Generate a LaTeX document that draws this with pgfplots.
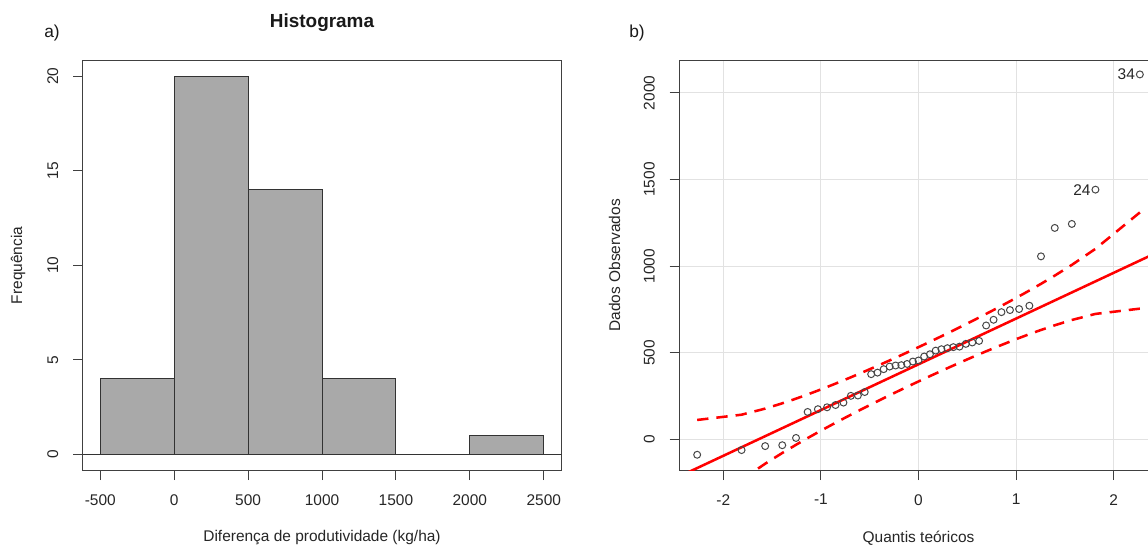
\documentclass[border=0pt]{standalone}
\usepackage{fontspec}
\setmainfont{Liberation Sans}
\usepackage{pgfplots}
\pgfplotsset{compat=1.18}
\newcommand\basefont{\fontsize{11.6}{13.9}\selectfont}
\definecolor{histgray}{HTML}{A9A9A9}
\definecolor{gridgray}{HTML}{E2E2E2}
\pgfplotsset{rstyle/.style={
  scale only axis, width=359.25pt, height=308pt,
  axis line style={black!75, line width=0.75pt},
  tick align=outside, tick pos=left, major tick length=7pt,
  tick style={black!75, line width=0.75pt},
  scaled ticks=false,
  tick label style={font=\basefont, text=black!85},
  xticklabel style={anchor=north, inner sep=0pt, yshift=-10.5pt},
  yticklabel style={rotate=90, anchor=south, inner sep=0pt, yshift=11pt},
  label style={font=\basefont, text=black!85},
  xlabel style={at={(axis description cs:0.5,-0.1639)}, anchor=center},
  ylabel style={at={(axis description cs:-0.1347,0.5)}, anchor=center},
}}
\begin{document}
\begin{tikzpicture}
\useasboundingbox (0,0) rectangle (861pt,408.75pt);
\fill[white] (0,0) rectangle (861pt,408.75pt);
% ---------------- a) histogram
\begin{axis}[rstyle, at={(61.875pt,55.725pt)}, anchor=south west,
  xmin=-620, xmax=2620, ymin=-0.86, ymax=20.85,
  xtick={-500,0,500,1000,1500,2000,2500},
  xticklabels={-500,0,500,1000,1500,2000,2500},
  ytick={0,5,10,15,20}, yticklabels={0,5,10,15,20},
  xlabel={Diferença de produtividade (kg/ha)},
  ylabel={Frequência}]
\addplot[ybar interval, fill=histgray, draw=black!80, line width=0.75pt]
  coordinates {(-500,4) (0,20) (500,14) (1000,4) (1500,0) (2000,1) (2500,1)};
\addplot[black!80, line width=0.75pt] coordinates {(-620,0) (2620,0)};
\end{axis}
% ---------------- b) QQ plot
\begin{axis}[rstyle, at={(509.25pt,55.725pt)}, anchor=south west,
  xmin=-2.454, xmax=2.454, ymin=-180, ymax=2190,
  xtick={-2,-1,0,1,2}, xticklabels={-2,-1,0,1,2},
  ytick={0,500,1000,1500,2000}, yticklabels={0,500,1000,1500,2000},
  grid=major, major grid style={gridgray, line width=0.75pt},
  xlabel={Quantis teóricos},
  ylabel={Dados Observados}]
\addplot[red, line width=1.9pt] coordinates {(-2.454,-213.9) (2.454,1081.9)};
\addplot[red, line width=1.9pt, dash pattern=on 8.5pt off 6pt] table {
x y
-2.268 112.8
-1.813 143.2
-1.571 178.3
-1.396 208.8
-1.255 235.8
-1.136 260.0
-1.031 282.3
-0.937 303.0
-0.850 322.6
-0.769 341.3
-0.693 359.0
-0.621 376.3
-0.551 393.0
-0.485 409.3
-0.420 425.2
-0.357 441.0
-0.296 456.4
-0.235 471.9
-0.176 487.0
-0.117 502.2
-0.058 517.7
0.000 532.9
0.058 548.3
0.117 564.0
0.176 580.0
0.235 595.9
0.296 612.6
0.357 629.4
0.420 647.0
0.485 665.3
0.551 684.0
0.621 704.1
0.693 725.0
0.769 747.3
0.850 771.4
0.937 797.8
1.031 826.7
1.136 859.8
1.255 898.4
1.396 945.8
1.571 1007.7
1.813 1100.4
2.268 1310.4
};
\addplot[red, line width=1.9pt, dash pattern=on 8.5pt off 6pt] table {
x y
-2.268 -442.4
-1.813 -232.4
-1.571 -139.7
-1.396 -77.8
-1.255 -30.4
-1.136 8.2
-1.031 41.3
-0.937 70.2
-0.850 96.6
-0.769 120.7
-0.693 143.0
-0.621 163.9
-0.551 184.0
-0.485 202.7
-0.420 221.0
-0.357 238.6
-0.296 255.4
-0.235 272.1
-0.176 288.0
-0.117 304.0
-0.058 319.7
0.000 335.1
0.058 350.3
0.117 365.8
0.176 381.0
0.235 396.1
0.296 411.6
0.357 427.0
0.420 442.8
0.485 458.7
0.551 475.0
0.621 491.7
0.693 509.0
0.769 526.7
0.850 545.4
0.937 565.0
1.031 585.7
1.136 608.0
1.255 632.2
1.396 659.2
1.571 689.7
1.813 724.8
2.268 755.2
};
\addplot[only marks, mark=o, mark size=2.6pt, draw=black!72, mark options={line width=0.75pt}] table {
x y
-2.268 -88
-1.813 -61
-1.571 -38
-1.396 -33
-1.255 9
-1.136 159
-1.031 175
-0.937 186
-0.850 199
-0.769 213
-0.693 252
-0.621 254
-0.551 274
-0.485 377
-0.420 386
-0.357 406
-0.296 421
-0.235 427
-0.176 429
-0.117 436
-0.058 450
0.000 456
0.058 479
0.117 492
0.176 513
0.235 521
0.296 527
0.357 533
0.420 536
0.485 552
0.551 560
0.621 569
0.693 658
0.769 691
0.850 735
0.937 747
1.031 753
1.136 772
1.255 1057
1.396 1221
1.571 1244
1.813 1442
2.268 2107
};
\node[anchor=east, font=\basefont, text=black!85, inner sep=0pt, xshift=-3.5pt] at (axis cs:1.813,1442) {24};
\node[anchor=east, font=\basefont, text=black!85, inner sep=0pt, xshift=-3.5pt] at (axis cs:2.268,2107) {34};
\end{axis}
% ---------------- titles
\node[font=\fontsize{14.2}{17}\selectfont\bfseries, text=black!90] at (241.5pt,391.5pt) {Histograma};
\node[font=\fontsize{13}{15.6}\selectfont, text=black!90] at (39pt,384pt) {a)};
\node[font=\fontsize{13}{15.6}\selectfont, text=black!90] at (477.75pt,384pt) {b)};
\end{tikzpicture}
\end{document}
